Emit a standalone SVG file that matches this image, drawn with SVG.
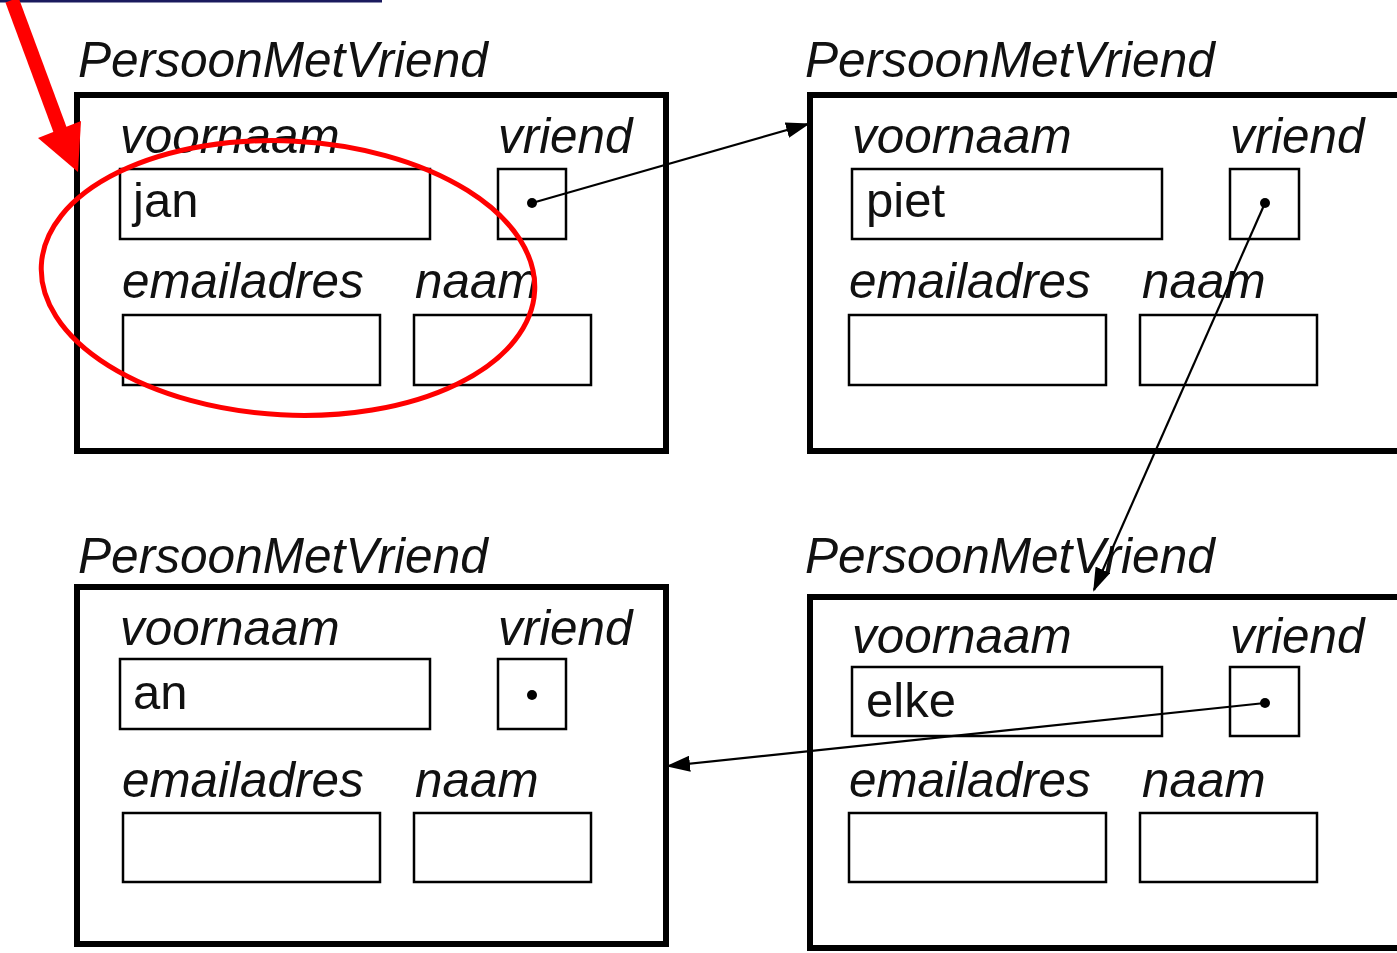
<svg xmlns="http://www.w3.org/2000/svg" width="1397" height="953" viewBox="0 0 1397 953">
<style>
.title{font-family:"Liberation Sans",Arial,sans-serif;font-style:italic;font-size:49.6px;fill:#111}
.lbl{font-family:"Liberation Sans",Arial,sans-serif;font-style:italic;font-size:49.4px;fill:#111}
.val{font-family:"Liberation Sans",Arial,sans-serif;font-size:49px;fill:#111}
.outer{fill:#fff;stroke:#000;stroke-width:6}
.field{fill:#fff;stroke:#000;stroke-width:2.5}
.dot{fill:#000}
.conn{stroke:#000;stroke-width:2.2;fill:none}
</style>
<defs>
<marker id="ah" viewBox="0 0 24 16" refX="22" refY="8" markerWidth="24" markerHeight="16" markerUnits="userSpaceOnUse" orient="auto">
<path d="M0,0 L24,8 L0,16 Z" fill="#000"/>
</marker>
</defs>
<rect width="1397" height="953" fill="#fff"/>
<line x1="0" y1="1" x2="382" y2="1" stroke="#1a1a5e" stroke-width="3"/>

<g id="node-jan">
<text class="title" x="78" y="77">PersoonMetVriend</text>
<rect class="outer" x="77" y="95" width="589" height="356"/>
<text class="lbl" x="120" y="153">voornaam</text>
<text class="lbl" x="498" y="153">vriend</text>
<rect class="field" x="120" y="169" width="310" height="70"/>
<text class="val" x="133" y="217">jan</text>
<rect class="field" x="498" y="169" width="68" height="70"/>
<circle class="dot" cx="532" cy="203" r="5"/>
<text class="lbl" x="122" y="298">emailadres</text>
<text class="lbl" x="415" y="298">naam</text>
<rect class="field" x="123" y="315" width="257" height="70"/>
<rect class="field" x="414" y="315" width="177" height="70"/>
</g>

<g id="node-piet">
<text class="title" x="805" y="77">PersoonMetVriend</text>
<rect class="outer" x="810" y="95" width="590" height="356"/>
<text class="lbl" x="852" y="153">voornaam</text>
<text class="lbl" x="1230" y="153">vriend</text>
<rect class="field" x="852" y="169" width="310" height="70"/>
<text class="val" x="866" y="217">piet</text>
<rect class="field" x="1230" y="169" width="69" height="70"/>
<circle class="dot" cx="1265" cy="203" r="5"/>
<text class="lbl" x="849" y="298">emailadres</text>
<text class="lbl" x="1142" y="298">naam</text>
<rect class="field" x="849" y="315" width="257" height="70"/>
<rect class="field" x="1140" y="315" width="177" height="70"/>
</g>

<g id="node-an">
<text class="title" x="78" y="573">PersoonMetVriend</text>
<rect class="outer" x="77" y="587" width="589" height="357"/>
<text class="lbl" x="120" y="645">voornaam</text>
<text class="lbl" x="498" y="645">vriend</text>
<rect class="field" x="120" y="659" width="310" height="70"/>
<text class="val" x="133" y="709">an</text>
<rect class="field" x="498" y="659" width="68" height="70"/>
<circle class="dot" cx="532" cy="695" r="5"/>
<text class="lbl" x="122" y="797">emailadres</text>
<text class="lbl" x="415" y="797">naam</text>
<rect class="field" x="123" y="813" width="257" height="69"/>
<rect class="field" x="414" y="813" width="177" height="69"/>
</g>

<g id="node-elke">
<text class="title" x="805" y="573">PersoonMetVriend</text>
<rect class="outer" x="810" y="597" width="590" height="351"/>
<text class="lbl" x="852" y="653">voornaam</text>
<text class="lbl" x="1230" y="653">vriend</text>
<rect class="field" x="852" y="667" width="310" height="69"/>
<text class="val" x="866" y="717">elke</text>
<rect class="field" x="1230" y="667" width="69" height="69"/>
<circle class="dot" cx="1265" cy="703" r="5"/>
<text class="lbl" x="849" y="797">emailadres</text>
<text class="lbl" x="1142" y="797">naam</text>
<rect class="field" x="849" y="813" width="257" height="69"/>
<rect class="field" x="1140" y="813" width="177" height="69"/>
</g>

<g id="connectors">
<line class="conn" x1="532" y1="203" x2="808" y2="124" marker-end="url(#ah)"/>
<line class="conn" x1="1265" y1="203" x2="1094" y2="590" marker-end="url(#ah)"/>
<line class="conn" x1="1265" y1="703" x2="668" y2="766" marker-end="url(#ah)"/>
</g>

<g id="annotation">
<ellipse cx="288" cy="278" rx="247" ry="137" fill="none" stroke="#f00" stroke-width="5" transform="rotate(3 288 278)"/>
<line x1="12" y1="0" x2="62" y2="135" stroke="#f00" stroke-width="14"/>
<polygon points="38,138 81,121 78,172" fill="#f00"/>
</g>
</svg>
